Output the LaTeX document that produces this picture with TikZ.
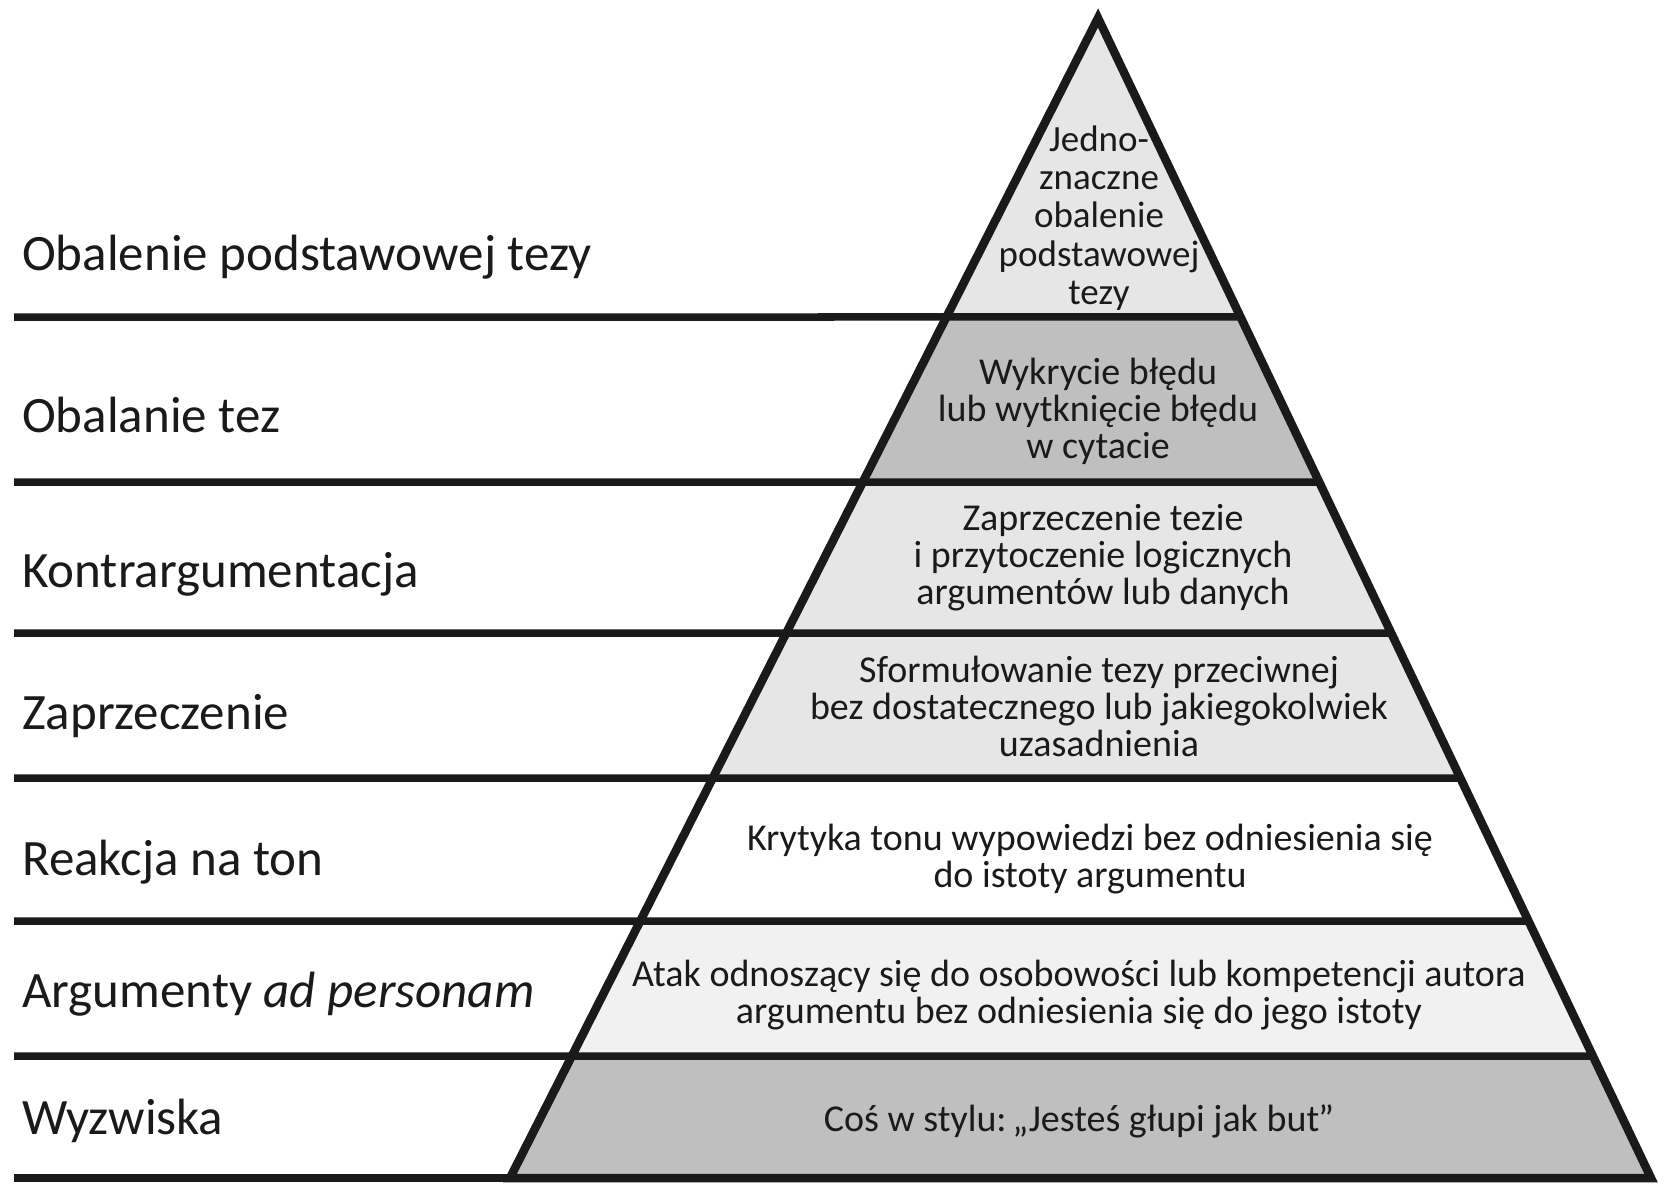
\documentclass[tikz,border=0pt]{standalone}
\usepackage{fontspec}
\setmainfont{Carlito}
\usetikzlibrary{calc}
\definecolor{gLight}{HTML}{E6E6E6}
\definecolor{gDark}{HTML}{BFBFBF}
\definecolor{gPale}{HTML}{F1F1F1}
\definecolor{ink}{HTML}{1A1A1A}
\begin{document}
\begin{tikzpicture}[x=1pt,y=-1pt,
  hline/.style={draw=ink,line width=7.5pt},
  outline/.style={draw=ink,line width=8.5pt,line join=miter},
  sidelabel/.style={anchor=base west,inner sep=0pt,font=\fontsize{51}{60}\selectfont,text=ink},
  pyrtext/.style={align=center,inner sep=0pt,font=\fontsize{38}{37}\selectfont,text=ink},
  toptext/.style={align=center,inner sep=0pt,font=\fontsize{37}{38.3}\selectfont,text=ink}]
\useasboundingbox (0,0) rectangle (1667,1186);
\fill[white] (0,0) rectangle (1667,1186);
\coordinate (A) at (1098,18);
\coordinate (BL) at (510,1178);
\coordinate (BR) at (1651,1178);
\foreach \n/\yy in {1/317,2/482,3/633,4/778,5/921,6/1056,7/1178} {
  \coordinate (L\n) at ($(A)!{(\yy-18)/1160}!(BL)$);
  \coordinate (R\n) at ($(A)!{(\yy-18)/1160}!(BR)$);
  \coordinate (E\n) at (14,\yy);
}
% layer fills
\fill[gLight] (A) -- (L1) -- (R1) -- cycle;
\fill[gDark] (L1) -- (L2) -- (R2) -- (R1) -- cycle;
\fill[gLight] (L2) -- (L3) -- (R3) -- (R2) -- cycle;
\fill[gLight] (L3) -- (L4) -- (R4) -- (R3) -- cycle;
\fill[white] (L4) -- (L5) -- (R5) -- (R4) -- cycle;
\fill[gPale] (L5) -- (L6) -- (R6) -- (R5) -- cycle;
\fill[gDark] (L6) -- (L7) -- (R7) -- (R6) -- cycle;
% horizontal lines
\foreach \n in {1,...,7} { \draw[hline] (E\n) -- (R\n); }
% outline
\draw[outline] (A) -- (BL) -- (BR) -- cycle;
% side labels
\node[sidelabel] (s1) at (22,270) {Obalenie podstawowej tezy};
\node[sidelabel] (s2) at (22,432) {Obalanie tez};
\node[sidelabel] (s3) at (22,587) {Kontrargumentacja};
\node[sidelabel] (s4) at (22,729) {Zaprzeczenie};
\node[sidelabel] (s5) at (22,875) {Reakcja na ton};
\node[sidelabel] (s6) at (22,1007) {Argumenty \textit{ad personam}};
\node[sidelabel] (s7) at (22,1134) {Wyzwiska};
% pyramid texts
\node[toptext] (p1) at (1099,218) {Jedno-\\znaczne\\obalenie\\podstawowej\\tezy};
\node[pyrtext] (p2) at (1098,411) {Wykrycie błędu\\lub wytknięcie błędu\\w cytacie};
\node[pyrtext] (p3) at (1103,558) {Zaprzeczenie tezie\\i przytoczenie logicznych\\argumentów lub danych};
\node[pyrtext] (p4) at (1099,706) {Sformułowanie tezy przeciwnej\\bez dostatecznego lub jakiegokolwiek\\uzasadnienia};
\node[pyrtext] (p5) at (1090,859) {Krytyka tonu wypowiedzi bez odniesienia się\\do istoty argumentu};
\node[pyrtext] (p6) at (1079,995) {Atak odnoszący się do osobowości lub kompetencji autora\\argumentu bez odniesienia się do jego istoty};
\node[pyrtext] (p7) at (1079,1121) {Coś w stylu: \kern-0.15em„Jesteś głupi jak but\kern-0.03em”};
\end{tikzpicture}
\end{document}
